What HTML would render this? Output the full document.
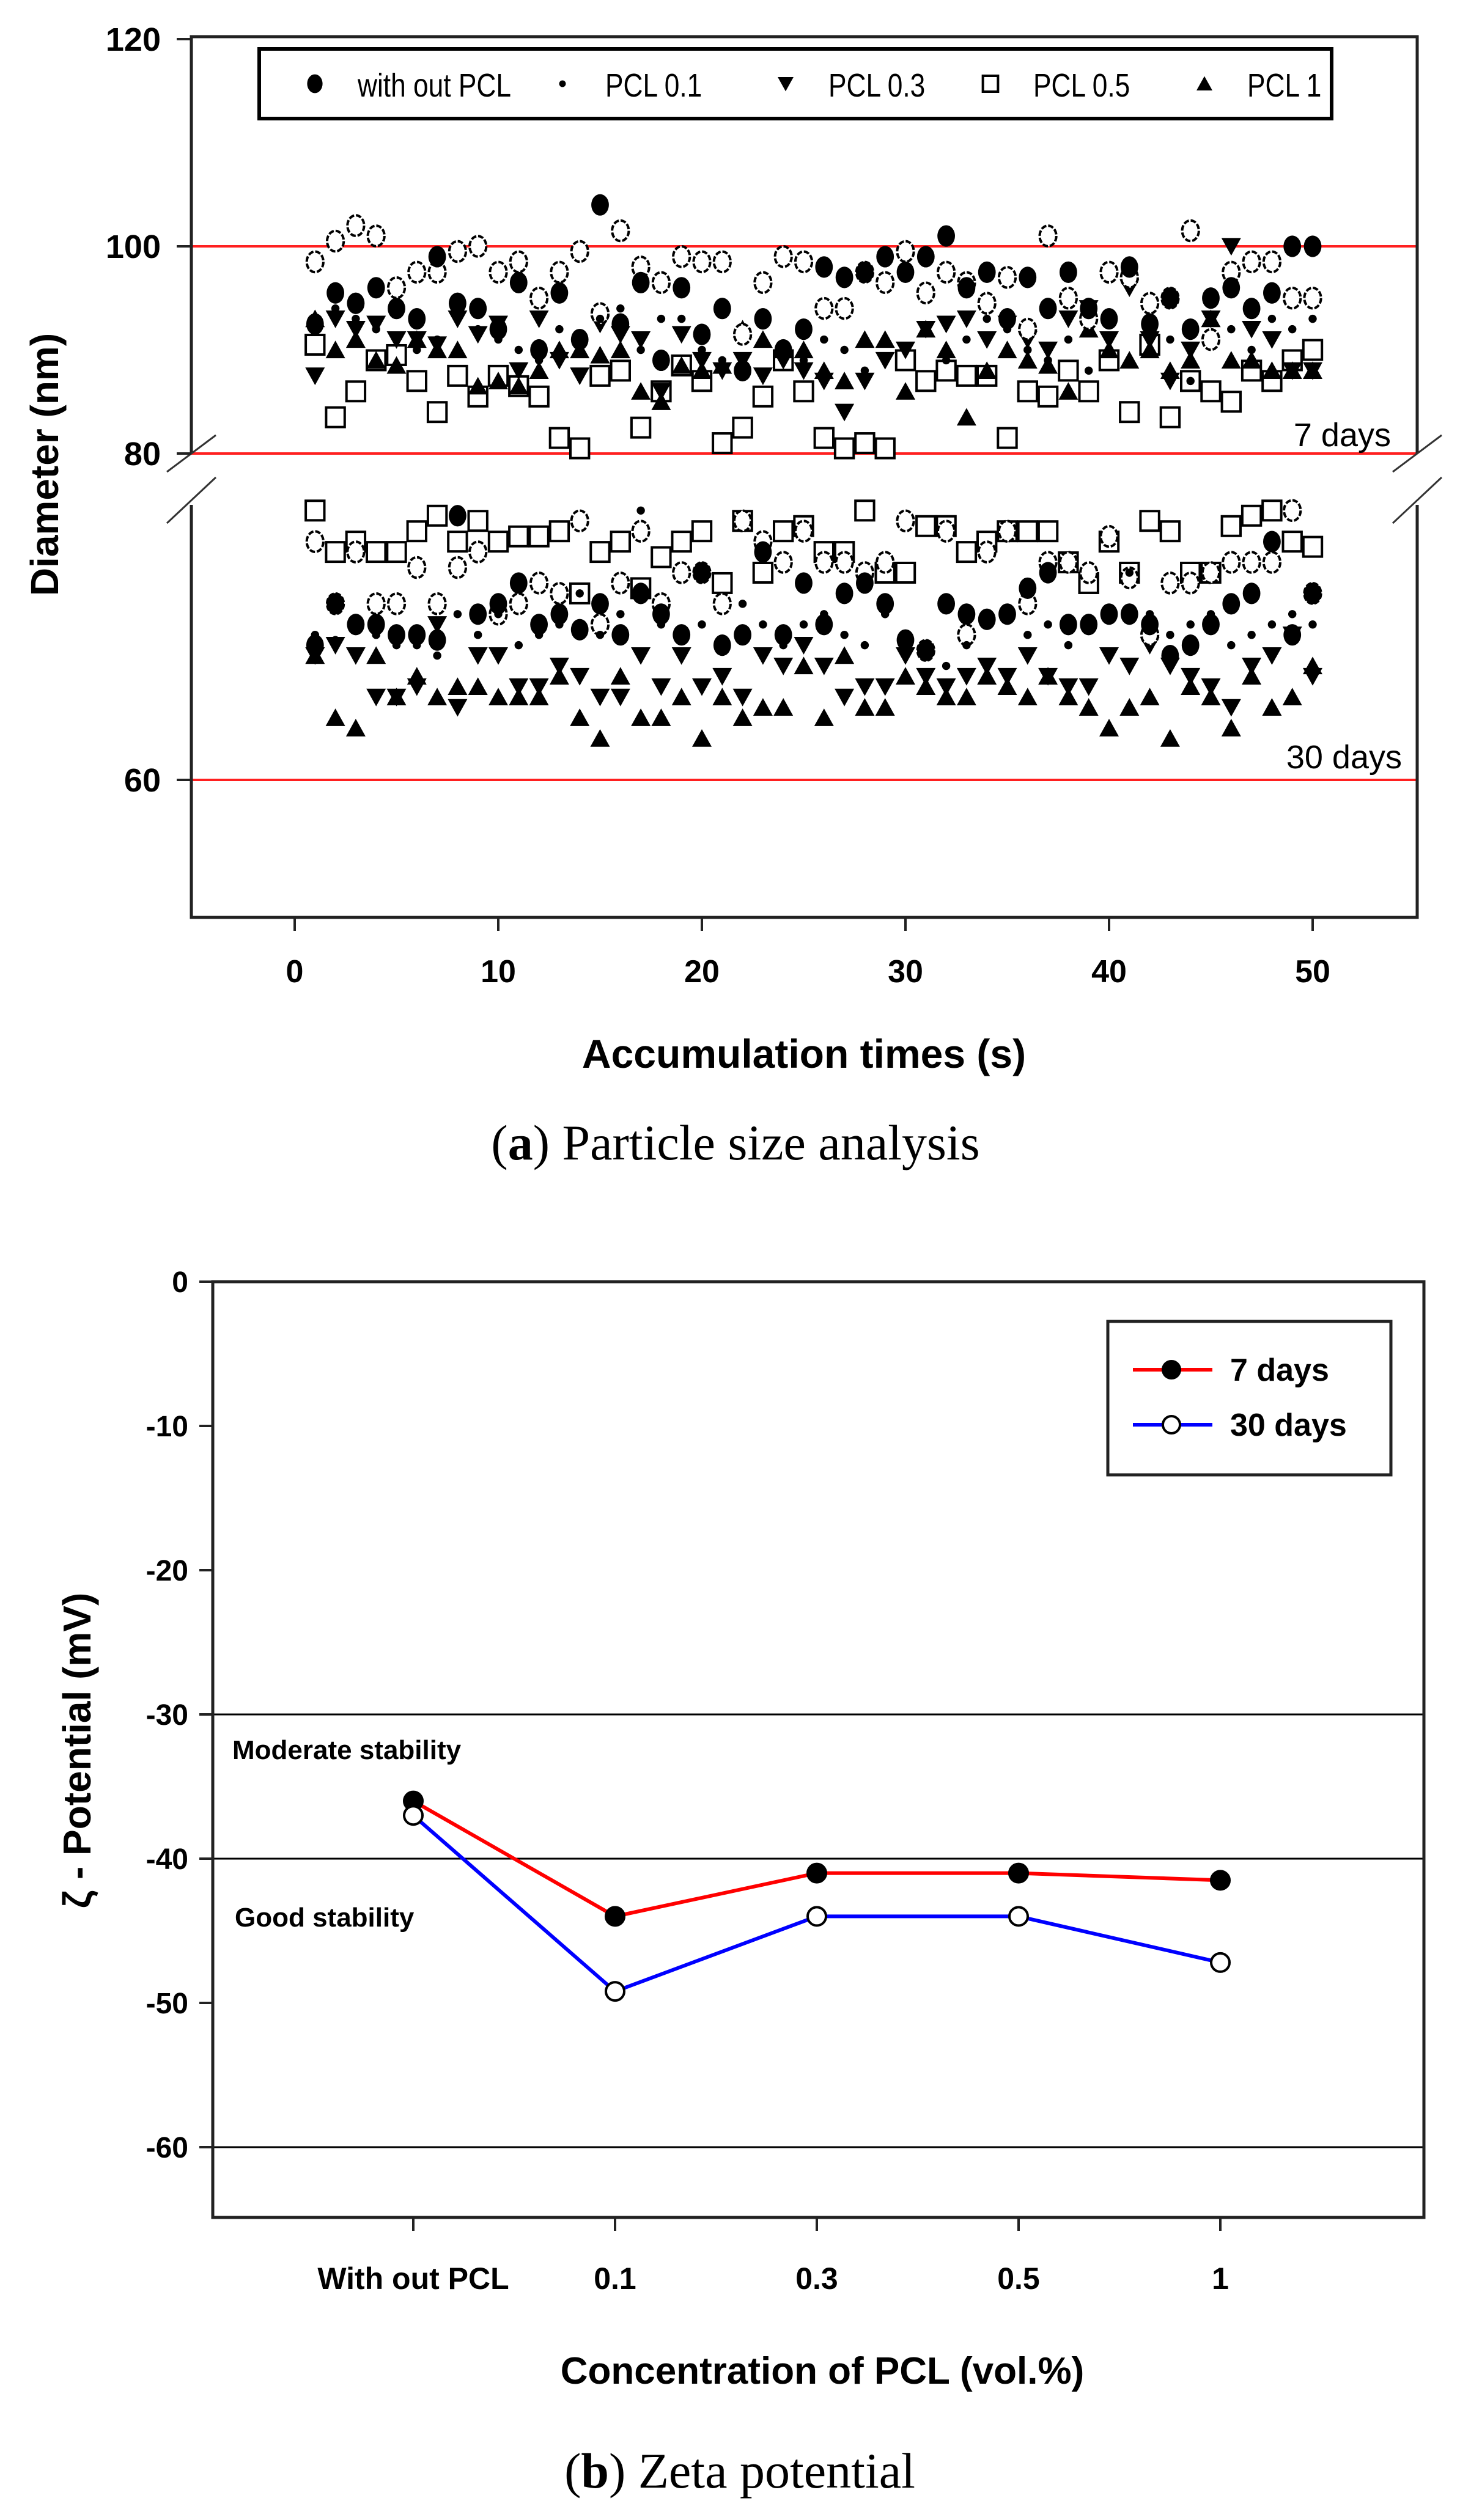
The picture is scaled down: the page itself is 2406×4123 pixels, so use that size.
<!DOCTYPE html>
<html><head><meta charset="utf-8">
<style>
html,body{margin:0;padding:0;background:#fff;}
svg{display:block;}
text{font-family:"Liberation Sans",sans-serif;}
</style></head>
<body>
<svg id="fig" width="2406" height="4123" viewBox="0 0 2406 4123" xmlns="http://www.w3.org/2000/svg">
<g id="chartA"></g>
<g id="chartB"></g>
</svg>
<script>
// ---------- Chart (a) data ----------
const xTicksA = [0,10,20,30,40,50];
const yTicksUpper = [80,100,120];
const yTicksLower = [60];
const refLinesA = [100,80,60];
// 7 days (upper segment)
const d7_openCircle = [98.5,100.5,102,101,96,97.5,97.5,99.5,100,97.5,98.5,95,97.5,99.5,93.5,101.5,98,96.5,99,98.5,98.5,91.5,96.5,99,98.5,94,94,97.5,96.5,99.5,95.5,97.5,96.5,94.5,97,92,101,95,93,97.5,97,94.5,95,101.5,91,97.5,98.5,98.5,95,95];
const d7_filledCircle = [92.5,95.5,94.5,96,94,93,99,94.5,94,92,96.5,90,95.5,91,104,92.5,96.5,89,96,91.5,94,88,93,90,92,98,97,97.5,99,97.5,99,101,96,97.5,93,97,94,97.5,94,93,98,92.5,95,92,95,96,94,95.5,100,100];
const d7_smallDot = [92,94,93,92,91,90,91,93,92,91,90,89,92,91,93,94,90,93,93,90,89,88,91,90,89,91,90,88,91,90,92,89,91,93,92,90,89,91,88,90,89,92,91,87,93,92,90,93,92,93];
const d7_downTri = [87.5,93,92,92.5,91,91,90.5,93,91.5,92.5,88,93,89,87.5,92.5,91.5,91,86,91.5,89,88,89,87.5,89,88,87,84,87,89,90,92,92.5,93,91,92.5,91,90,93,94,91,96,91,87,90,93,100,92,91,88,88];
const d7_square = [90.5,83.5,86,89,89.5,87,84,87.5,85.5,87.5,86.5,85.5,81.5,80.5,87.5,88,82.5,86,88.5,87,81,82.5,85.5,89,86,81.5,80.5,81,80.5,89,87,88,87.5,87.5,81.5,86,85.5,88,86,89,84,90.5,83.5,87,86,85,88,87,89,90];
const d7_upTri = [93,90,91,89,88.5,91,90,90,86.5,87,86.5,88,90,90,89.5,90,86,85,88.5,88,88.5,92,91,90,90,88,87,91,91,86,92,90,83.5,88,90,89,88.5,86,92,90,89,90,88,89,93,89,89,88,88,88];
// 30 days (lower segment)
const d30_square = [86,82,83,82,82,84,85.5,83,85,83,83.5,83.5,84,78,82,83,78.5,81.5,83,84,79,85,80,84,84.5,82,82,86,80,80,84.5,84.5,82,83,84,84,84,81,79,83,80,85,84,80,80,84.5,85.5,86,83,82.5];
const d30_openCircle = [83,77,82,77,77,80.5,77,80.5,82,76,77,79,78,85,75,79,84,77,80,80,77,85,83,81,84,81,81,80,81,85,72.5,84,74,82,84,77,81,81,80,83.5,79.5,74,79,79,80,81,81,81,86,78];
const d30_filledCircle = [73,77,75,75,74,74,73.5,85.5,76,77,79,75,76,74.5,77,74,78,76,74,80,73,74,82,74,79,75,78,79,77,73.5,72.5,77,76,75.5,76,78.5,80,75,75,76,76,75,72,73,75,77,78,83,74,78];
const d30_smallDot = [74,73.5,75,74,73,73,72,76,74,76,73,74,75,78,74,76,86,75,74,75,73,77,75,73,75,76,74,73,76,72,73,71,73,75,76,74,75,73,75,76,80,76,74,75,76,73,74,75,76,75];
const d30_downTri = [72,73,72,68,68,69,75,67,72,72,69,69,71,70,68,68,72,69,72,69,70,68,72,71,73,71,68,69,69,72,70,69,70,71,70,72,70,69,69,72,71,73,71,70,69,67,71,72,74,70];
const d30_upTri = [72,66,65,72,68,70,68,69,69,68,68,68,70,66,64,70,66,66,68,64,68,66,67,67,71,66,72,67,67,70,69,68,68,70,69,68,70,68,67,65,67,68,64,69,68,65,70,67,68,71];
const legendLabelsA = ["with out PCL","PCL 0.1","PCL 0.3","PCL 0.5","PCL 1"];

// ---------- Chart (b) data ----------
const categoriesB = ["With out PCL","0.1","0.3","0.5","1"];
const zeta7 = [-36,-44,-41,-41,-41.5];
const zeta30 = [-37,-49.2,-44,-44,-47.2];
const yTicksB = [0,-10,-20,-30,-40,-50,-60];
const refLinesB = [-30,-40,-60];

const NS = "http://www.w3.org/2000/svg";
function mk(parent, tag, attrs, txt){
  const e = document.createElementNS(NS, tag);
  for (const k in attrs) e.setAttribute(k, attrs[k]);
  if (txt !== undefined) e.textContent = txt;
  parent.appendChild(e);
  return e;
}

// ===== Chart A =====
const A = document.getElementById('chartA');
const AL = 313, AR = 2318, AT = 60, AB = 1501;
const xA = v => 482 + (v - 0) * 33.3;
const yUp = v => 403 - (v - 100) * 16.95;
const yLo = v => 1276 - (v - 60) * 16.95;

refLinesA.forEach(v => {
  const y = v >= 80 ? yUp(v) : yLo(v);
  const l = mk(A, 'line', {x1:AL, x2:AR, y1:y, y2:y, stroke:'#ff2020', 'stroke-width':4});
  
  
});

const brkTop = yUp(80), brkBot = 826;
const frame = mk(A, 'path', {d:`M${AL},${brkTop} L${AL},${AT} L${AR},${AT} L${AR},${brkTop} M${AR},${brkBot} L${AR},${AB} L${AL},${AB} L${AL},${brkBot}`, fill:'none', stroke:'#222', 'stroke-width':5});


[[AL],[AR]].forEach(([x]) => {
  const b1 = mk(A, 'line', {x1:x-40, y1:brkTop+30, x2:x+40, y2:brkTop-30, stroke:'#333', 'stroke-width':3});
  
  
  const b2 = mk(A, 'line', {x1:x-40, y1:brkBot+30, x2:x+40, y2:brkBot-45, stroke:'#333', 'stroke-width':3});
  
  
});

yTicksUpper.forEach(v => {
  const y = yUp(v);
  const t = mk(A, 'line', {x1:AL-24, x2:AL, y1:y, y2:y, stroke:'#222', 'stroke-width':4});
  
  
  const lb = mk(A, 'text', {x:AL-50, y:y+19, 'text-anchor':'end', 'font-size':54, 'font-weight':'bold'}, String(v));
  
  
});
yTicksLower.forEach(v => {
  const y = yLo(v);
  const t = mk(A, 'line', {x1:AL-24, x2:AL, y1:y, y2:y, stroke:'#222', 'stroke-width':4});
  
  
  const lb = mk(A, 'text', {x:AL-50, y:y+19, 'text-anchor':'end', 'font-size':54, 'font-weight':'bold'}, String(v));
  
  
});
xTicksA.forEach(v => {
  const x = xA(v);
  const t = mk(A, 'line', {x1:x, x2:x, y1:AB, y2:AB+22, stroke:'#222', 'stroke-width':4});
  
  
  const lb = mk(A, 'text', {x:x, y:1607, 'text-anchor':'middle', 'font-size':52, 'font-weight':'bold'}, String(v));
  
  
});

function marker(g, type, cx, cy, s){
  let e;
  if (type === 'filledCircle') e = mk(g, 'ellipse', {cx, cy, rx:s*0.9, ry:s*1.1, fill:'#000'});
  else if (type === 'openCircle') e = mk(g, 'ellipse', {cx, cy, rx:s*0.85, ry:s*1.05, fill:'#fff', stroke:'#000', 'stroke-width':4, 'stroke-dasharray':'9 3'});
  else if (type === 'smallDot') e = mk(g, 'circle', {cx, cy, r:s*0.42, fill:'#000'});
  else if (type === 'downTri') e = mk(g, 'polygon', {points:`${cx-s},${cy-s*0.85} ${cx+s},${cy-s*0.85} ${cx},${cy+s*0.95}`, fill:'#000'});
  else if (type === 'upTri') e = mk(g, 'polygon', {points:`${cx-s},${cy+s*0.85} ${cx+s},${cy+s*0.85} ${cx},${cy-s*0.95}`, fill:'#000'});
  else if (type === 'square') e = mk(g, 'rect', {x:cx-s*0.95, y:cy-s*1.0, width:s*1.9, height:s*2.0, fill:'#fff', stroke:'#000', 'stroke-width':4});
  return e;
}
const seriesA = [
  ['square', d7_square, d30_square],
  ['upTri', d7_upTri, d30_upTri],
  ['downTri', d7_downTri, d30_downTri],
  ['openCircle', d7_openCircle, d30_openCircle],
  ['filledCircle', d7_filledCircle, d30_filledCircle],
  ['smallDot', d7_smallDot, d30_smallDot]
];
seriesA.forEach(([type, up, lo]) => {
  const g = mk(A, 'g', {});
  
  
  up.forEach((v, i) => {
    const m = marker(g, type, xA(i + 1), yUp(v), 16);
    
    
  });
  lo.forEach((v, i) => {
    const m = marker(g, type, xA(i + 1), yLo(v), 16);
    
    
  });
});

const t7 = mk(A, 'text', {x:2275, y:730, 'text-anchor':'end', 'font-size':54}, '7 days');


const t30 = mk(A, 'text', {x:2293, y:1257, 'text-anchor':'end', 'font-size':54}, '30 days');



const lg = mk(A, 'g', {});


const lgBox = mk(lg, 'rect', {x:424, y:80, width:1754, height:114, fill:'#fff', stroke:'#000', 'stroke-width':6});


const lgTypes = ['filledCircle','smallDot','downTri','square','upTri'];
const lgMarkX = [515, 920, 1285, 1620, 1970];
legendLabelsA.forEach((lab, i) => {
  const m = marker(lg, lgTypes[i], lgMarkX[i], 137, lgTypes[i]==='filledCircle'?14:13);
  
  
  const tx = mk(lg, 'text', {x:lgMarkX[i] + 70, y:158, 'font-size':54, transform:`translate(${lgMarkX[i]+70},0) scale(0.82,1) translate(${-(lgMarkX[i]+70)},0)`}, lab);
  
  
});

const ytA = mk(A, 'text', {x:0, y:0, 'text-anchor':'middle', 'font-size':64, 'font-weight':'bold', transform:'translate(95,760) rotate(-90)'}, 'Diameter (nm)');


const xtA = mk(A, 'text', {x:1315, y:1747, 'text-anchor':'middle', 'font-size':66, 'font-weight':'bold'}, 'Accumulation times (s)');


const capA = mk(A, 'text', {x:1203, y:1897, 'text-anchor':'middle', 'font-size':82, style:'font-family:"Liberation Serif",serif'});


capA.innerHTML = '(<tspan font-weight="bold">a</tspan>) Particle size analysis';

// ===== Chart B =====
const B = document.getElementById('chartB');
const BL = 348, BR = 2329, BT = 2097, BB = 3628;
const xB = i => 676 + i * 330;
const yB = v => 2097 - v * 23.6;

refLinesB.forEach(v => {
  const l = mk(B, 'line', {x1:BL, x2:BR, y1:yB(v), y2:yB(v), stroke:'#000', 'stroke-width':3});
  
  
});
const fr = mk(B, 'rect', {x:BL, y:BT, width:BR-BL, height:BB-BT, fill:'none', stroke:'#222', 'stroke-width':5});


yTicksB.forEach(v => {
  const y = yB(v);
  const t = mk(B, 'line', {x1:BL-22, x2:BL, y1:y, y2:y, stroke:'#222', 'stroke-width':4});
  
  
  const lb = mk(B, 'text', {x:BL-40, y:y+17, 'text-anchor':'end', 'font-size':48, 'font-weight':'bold'}, String(v));
  
  
});
categoriesB.forEach((c, i) => {
  const x = xB(i);
  const t = mk(B, 'line', {x1:x, x2:x, y1:BB, y2:BB+22, stroke:'#222', 'stroke-width':4});
  
  
  const lb = mk(B, 'text', {x:x, y:3745, 'text-anchor':'middle', 'font-size':50, 'font-weight':'bold'}, c);
  
  
});
function seriesLine(vals, color, filled, name){
  const g = mk(B, 'g', {});
  
  
  const pts = vals.map((v, i) => xB(i) + ',' + yB(v)).join(' ');
  const pl = mk(g, 'polyline', {points:pts, fill:'none', stroke:color, 'stroke-width':6});
  
  
  vals.forEach((v, i) => {
    const c = mk(g, 'circle', {cx:xB(i), cy:yB(v), r:15, fill:filled?'#000':'#fff', stroke:'#000', 'stroke-width':4});
    
    
  });
}
seriesLine(zeta7, '#ff0000', true, 'series-7-days');
seriesLine(zeta30, '#0000ff', false, 'series-30-days');

const lgB = mk(B, 'g', {});


const lbx = mk(lgB, 'rect', {x:1812, y:2162, width:463, height:251, fill:'#fff', stroke:'#222', 'stroke-width':5});


[['7 days','#ff0000',true,2241],['30 days','#0000ff',false,2331]].forEach(([lab,col,f,y]) => {
  const l = mk(lgB, 'line', {x1:1853, x2:1983, y1:y, y2:y, stroke:col, 'stroke-width':6});
  
  
  const c = mk(lgB, 'circle', {cx:1916, cy:y, r:14, fill:f?'#000':'#fff', stroke:'#000', 'stroke-width':4});
  
  
  const t = mk(lgB, 'text', {x:2012, y:y+18, 'font-size':52, 'font-weight':'bold'}, lab);
  
  
});
const ms = mk(B, 'text', {x:380, y:2878, 'font-size':44, 'font-weight':'bold'}, 'Moderate stability');


const gs = mk(B, 'text', {x:384, y:3152, 'font-size':44, 'font-weight':'bold'}, 'Good stability');


const ytB = mk(B, 'text', {x:0, y:0, 'text-anchor':'middle', 'font-size':64, 'font-weight':'bold', transform:'translate(148,2864) rotate(-90)'}, 'ζ  - Potential (mV)');


const xtB = mk(B, 'text', {x:1345, y:3900, 'text-anchor':'middle', 'font-size':62, 'font-weight':'bold'}, 'Concentration of PCL (vol.%)');


const capB = mk(B, 'text', {x:1210, y:4070, 'text-anchor':'middle', 'font-size':82, style:'font-family:"Liberation Serif",serif'});


capB.innerHTML = '(<tspan font-weight="bold">b</tspan>) Zeta potential';
</script>
</body></html>
